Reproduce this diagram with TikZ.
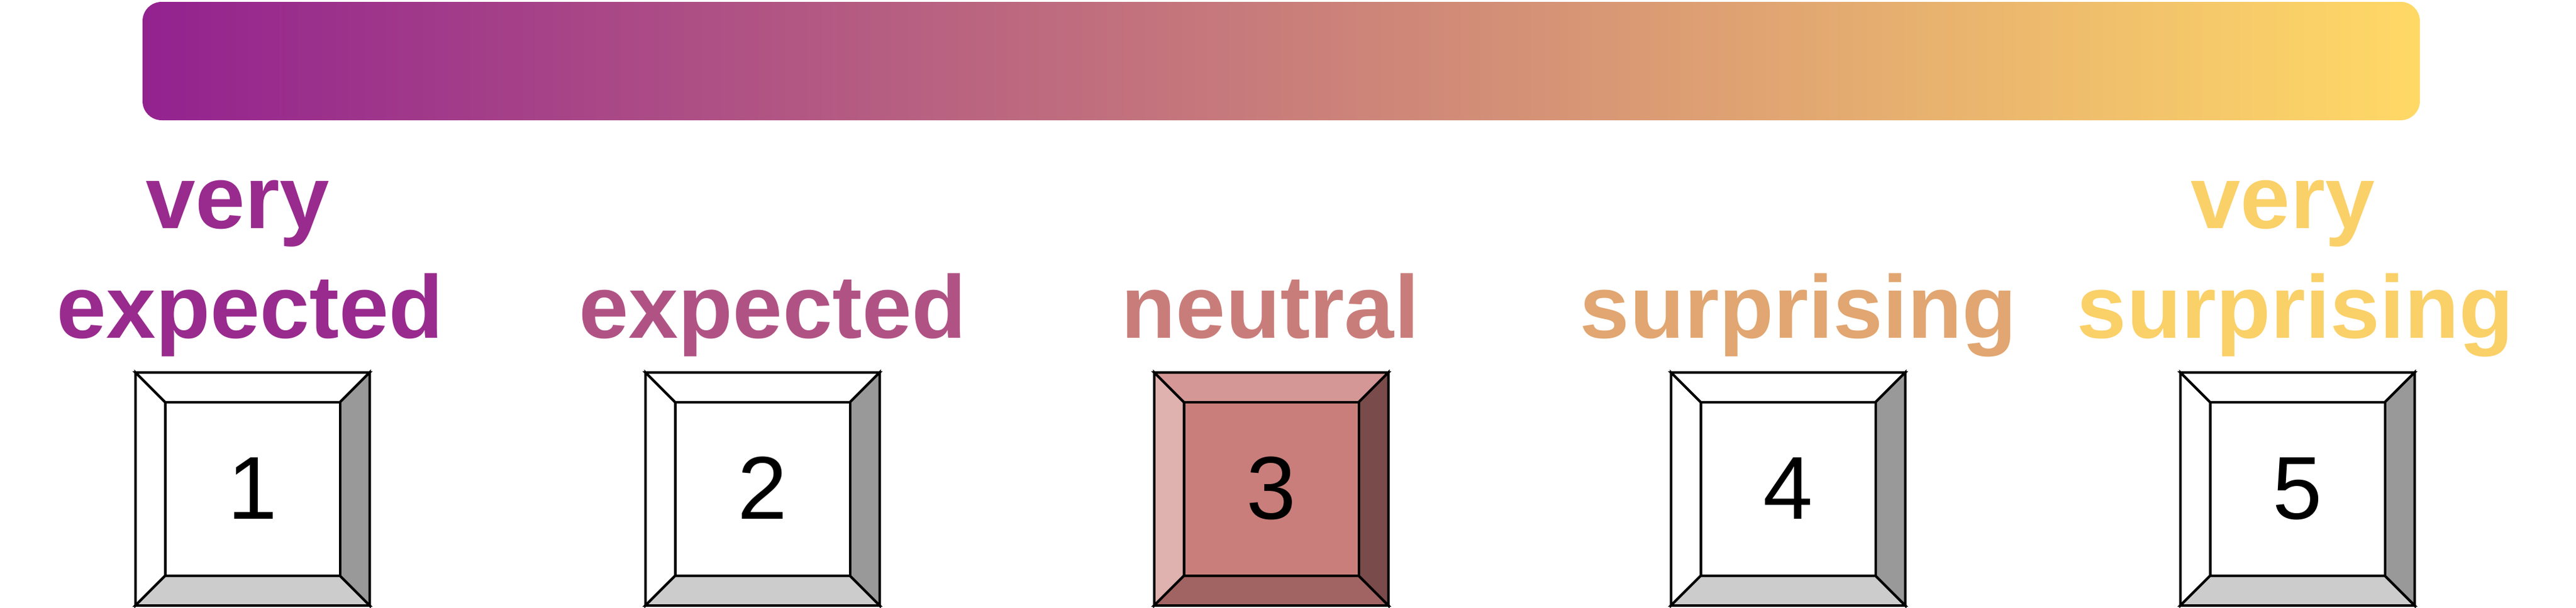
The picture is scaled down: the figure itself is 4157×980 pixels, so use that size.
\documentclass[tikz,border=0pt]{standalone}
\usepackage{fontspec}
\setmainfont{Liberation Sans}
\definecolor{gpur}{HTML}{93228F}
\definecolor{gyel}{HTML}{FFD966}
\colorlet{lab1}{gyel!5!gpur}
\colorlet{lab2}{gyel!27!gpur}
\colorlet{lab3}{gyel!50!gpur}
\colorlet{lab4}{gyel!72!gpur}
\colorlet{lab5}{gyel!95!gpur}
\tikzset{
  facet/.style={draw=black, line width=4pt, line join=miter},
  labeltext/.style={font=\fontsize{144}{177}\selectfont\bfseries, align=center, anchor=base, inner sep=0pt},
  digittext/.style={font=\fontsize{144}{172}\selectfont, anchor=base, inner sep=0pt, text=black},
}
\newcommand\keycap[4]{% #1 centre x, #2 colour, #3 digit, #4 name
  \begin{scope}[shift={(#1,0)}]
    \filldraw[facet, fill=#2!80] (-189,601) -- (189,601) -- (141,649) -- (-141,649) -- cycle;
    \filldraw[facet, fill=#2!60] (-189,601) -- (-141,649) -- (-141,929) -- (-189,977) -- cycle;
    \filldraw[facet, fill=#2!60!black] (189,601) -- (189,977) -- (141,929) -- (141,649) -- cycle;
    \filldraw[facet, fill=#2!80!black] (-189,977) -- (189,977) -- (141,929) -- (-141,929) -- cycle;
    \filldraw[facet, fill=#2] (-141,649) rectangle (141,929);
    \node[digittext] (#4) at (0,837) {#3};
  \end{scope}
}
\begin{document}
\begin{tikzpicture}[x=1pt, y=-1pt]
  \useasboundingbox (0,0) rectangle (4157,980);
  \shade[left color=gpur, right color=gyel, rounded corners=31pt] (230,3) rectangle (3905,194);
  \node[labeltext, text=lab1] (l1) at (403.5,545) {very\hspace*{0.278em}\\expected};
  \node[labeltext, text=lab2] (l2) at (1247,545) {expected};
  \node[labeltext, text=lab3] (l3) at (2050,545) {neutral};
  \node[labeltext, text=lab4] (l4) at (2902,545) {surprising};
  \node[labeltext, text=lab5] (l5) at (3704,545) {very\hspace*{0.278em}\\surprising};
  \keycap{407.5}{white}{1}{k1}
  \keycap{1230.5}{white}{2}{k2}
  \keycap{2051.5}{lab3}{3}{k3}
  \keycap{2885.5}{white}{4}{k4}
  \keycap{3707.5}{white}{5}{k5}
\end{tikzpicture}
\end{document}
